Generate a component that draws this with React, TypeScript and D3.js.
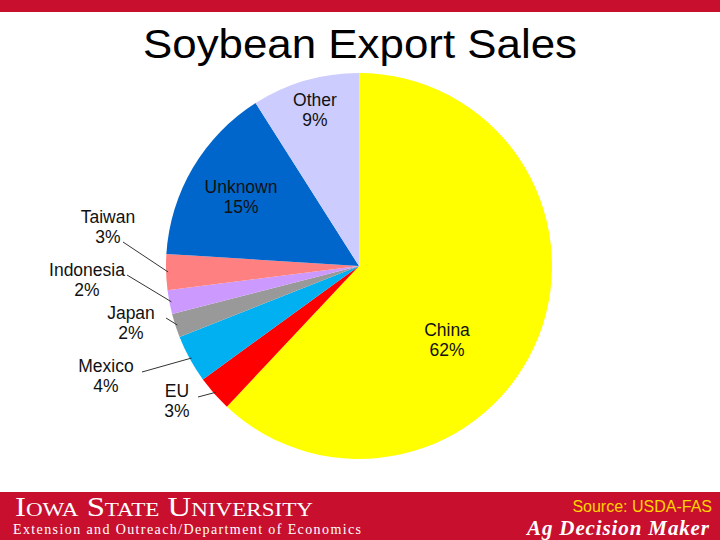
import React from "react";
import * as d3 from "d3";

const categories = ["China", "EU", "Mexico", "Japan", "Indonesia", "Taiwan", "Unknown", "Other"];
const shares = [62, 3, 4, 2, 2, 3, 15, 9];
const sliceColors = ["#FFFF00", "#FF0000", "#00B0F0", "#999999", "#CC99FF", "#FF8080", "#0066CC", "#CCCCFF"];

// label layout (center x, first baseline y)
const labelPos: [number, number][] = [
  [447, 336],
  [177, 397],
  [106, 372],
  [131, 319],
  [87, 276],
  [108, 223],
  [241, 193],
  [315, 106],
];
// leader line starts (near label)
const leaderStart: ([number, number] | null)[] = [
  null,
  [198, 397],
  [142, 372],
  [166, 318],
  [127, 275],
  [123, 242],
  null,
  null,
];

const W = 720;
const H = 540;
const cx = 359;
const cy = 266;
const R = 193;
const RED = "#C8102E";

export default function App() {
  const pie = d3.pie<number>().sort(null).value((d) => d)(shares);
  const arc = d3.arc<d3.PieArcDatum<number>>().innerRadius(0).outerRadius(R);
  const font = "Liberation Sans, Arial, sans-serif";
  return (
    <svg width={W} height={H} style={{ position: "absolute", left: 0, top: 0, background: "#fff" }}>
      <rect x={0} y={0} width={W} height={H} fill="#fff" />
      <rect x={0} y={0} width={W} height={12} fill={RED} />
      <text x={360} y={58} textAnchor="middle" fontFamily={font} fontSize={40} fill="#000" textLength={434} lengthAdjust="spacingAndGlyphs">
        Soybean Export Sales
      </text>
      <g transform={`translate(${cx},${cy})`}>
        {pie.map((p, i) => (
          <path key={categories[i]} d={arc(p) || ""} fill={sliceColors[i]} />
        ))}
      </g>
      {pie.map((p, i) => {
        const s = leaderStart[i];
        if (!s) return null;
        const a = (p.startAngle + p.endAngle) / 2;
        const ex = cx + Math.sin(a) * (R - 2);
        const ey = cy - Math.cos(a) * (R - 2);
        return <line key={"l" + i} x1={s[0]} y1={s[1]} x2={ex} y2={ey} stroke="#333" strokeWidth={1} />;
      })}
      {categories.map((c, i) => {
        const [x, y] = labelPos[i];
        return (
          <text key={"t" + c} x={x} y={y} textAnchor="middle" fontFamily={font} fontSize={17.5} fill="#111">
            <tspan x={x} y={y}>{c}</tspan>
            <tspan x={x} y={y + 20}>{shares[i]}%</tspan>
          </text>
        );
      })}
      <rect x={0} y={492} width={W} height={48} fill={RED} />
      <text x={15} y={516} fontFamily="Liberation Serif, Times New Roman, serif" fontSize={27} fill="#fff" style={{ fontVariant: "small-caps" }} textLength={298} lengthAdjust="spacingAndGlyphs">
        Iowa State University
      </text>
      <text x={13} y={534} fontFamily="Liberation Serif, Times New Roman, serif" fontSize={14} fill="#fff" textLength={348} lengthAdjust="spacing">
        Extension and Outreach/Department of Economics
      </text>
      <text x={712} y={512} textAnchor="end" fontFamily={font} fontSize={16} fill="#FFD400">
        Source: USDA-FAS
      </text>
      <text x={709} y={535} textAnchor="end" fontFamily="Liberation Serif, Times New Roman, serif" fontSize={21} fontStyle="italic" fontWeight="bold" fill="#fff" textLength={182} lengthAdjust="spacing">
        Ag Decision Maker
      </text>
    </svg>
  );
}
